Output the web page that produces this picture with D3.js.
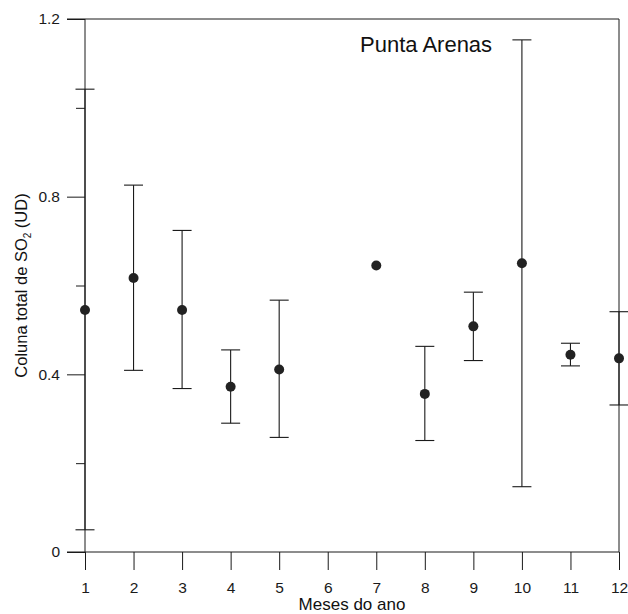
<!DOCTYPE html>
<html>
<head>
<meta charset="utf-8">
<script src="https://cdn.jsdelivr.net/npm/d3@7"></script>
<style>
  html, body { margin: 0; padding: 0; background: #fff; }
  svg { display: block; font-family: "Liberation Sans", Arial, sans-serif; }
</style>
</head>
<body>
<svg id="chart" width="628" height="614"></svg>
<script>
// Data
const months    = [1, 2, 3, 4, 5, 7, 8, 9, 10, 11, 12];
const means     = [0.545, 0.617, 0.545, 0.372, 0.411, 0.645, 0.356, 0.508, 0.650, 0.444, 0.436];
const upper     = [1.042, 0.826, 0.724, 0.455, 0.567, null, 0.463, 0.585, 1.153, 0.470, 0.541];
const lower     = [0.050, 0.409, 0.368, 0.290, 0.258, null, 0.251, 0.431, 0.147, 0.419, 0.331];
const xTicks    = [1, 2, 3, 4, 5, 6, 7, 8, 9, 10, 11, 12];
const yMajor    = [0, 0.4, 0.8, 1.2];
const yMinor    = [0.2, 0.6, 1.0];
const title     = "Punta Arenas";
const xTitle    = "Meses do ano";

const svg = d3.select("#chart");
const L = 85, R = 619, T = 19, B = 552;

const x = d3.scaleLinear().domain([1, 12]).range([L, R]);
const y = d3.scaleLinear().domain([0, 1.2]).range([B, T]);

const ink = "#1a1a1a";

// Y axis (major ticks with labels)
const yAxis = d3.axisLeft(y).tickValues(yMajor).tickSize(18).tickPadding(7)
  .tickFormat(d => d === 0 ? "0" : d3.format(".1f")(d));
const gy = svg.append("g").attr("transform", `translate(${L},0)`).call(yAxis);
gy.select(".domain").remove();
gy.selectAll(".tick line").attr("stroke", ink);
gy.selectAll(".tick text").attr("fill", ink).style("font-size", "15.5px")
  .style("font-family", "Liberation Sans, Arial, sans-serif");

// Y minor ticks
const yAxisMinor = d3.axisLeft(y).tickValues(yMinor).tickSize(9).tickFormat("");
const gym = svg.append("g").attr("transform", `translate(${L},0)`).call(yAxisMinor);
gym.select(".domain").remove();
gym.selectAll(".tick line").attr("stroke", ink);

// X axis
const xAxis = d3.axisBottom(x).tickValues(xTicks).tickSize(18).tickPadding(12)
  .tickFormat(d3.format("d"));
const gx = svg.append("g").attr("transform", `translate(0,${B})`).call(xAxis);
gx.select(".domain").remove();
gx.selectAll(".tick line").attr("stroke", ink);
gx.selectAll(".tick text").attr("fill", ink).style("font-size", "15.5px")
  .style("font-family", "Liberation Sans, Arial, sans-serif");

// Frame
svg.append("line").attr("x1", L).attr("x2", L).attr("y1", T).attr("y2", B).attr("stroke", ink);
svg.append("line").attr("x1", R).attr("x2", R).attr("y1", T).attr("y2", B).attr("stroke", ink);
svg.append("line").attr("x1", L - 18).attr("x2", R).attr("y1", T).attr("y2", T).attr("stroke", ink);
svg.append("line").attr("x1", L - 18).attr("x2", R).attr("y1", B).attr("y2", B).attr("stroke", ink);

// Data rows
const rows = months.map((m, i) => ({ m, v: means[i], hi: upper[i], lo: lower[i] }));
const withErr = rows.filter(d => d.hi !== null);
const cap = 9.5;

const eg = svg.append("g").attr("stroke", ink).attr("stroke-width", 1.1);
eg.selectAll("line.v").data(withErr).join("line").attr("class", "v")
  .attr("x1", d => x(d.m)).attr("x2", d => x(d.m))
  .attr("y1", d => y(d.hi)).attr("y2", d => y(d.lo));
eg.selectAll("line.hi").data(withErr).join("line").attr("class", "hi")
  .attr("x1", d => x(d.m) - cap).attr("x2", d => x(d.m) + cap)
  .attr("y1", d => y(d.hi)).attr("y2", d => y(d.hi));
eg.selectAll("line.lo").data(withErr).join("line").attr("class", "lo")
  .attr("x1", d => x(d.m) - cap).attr("x2", d => x(d.m) + cap)
  .attr("y1", d => y(d.lo)).attr("y2", d => y(d.lo));

svg.append("g").selectAll("circle").data(rows).join("circle")
  .attr("cx", d => x(d.m)).attr("cy", d => y(d.v)).attr("r", 5)
  .attr("fill", "#222");

// Title inside plot
svg.append("text").attr("x", 360).attr("y", 52)
  .attr("fill", "#111").style("font-size", "22px").text(title);

// X title
svg.append("text").attr("x", (L + R) / 2).attr("y", 610)
  .attr("text-anchor", "middle").attr("fill", "#111").style("font-size", "17px").text(xTitle);

// Y title with subscript
const yt = svg.append("text")
  .attr("transform", `translate(27,${(T + B) / 2}) rotate(-90)`)
  .attr("text-anchor", "middle").attr("fill", "#111").style("font-size", "16.5px");
yt.append("tspan").text("Coluna total de SO");
yt.append("tspan").attr("dy", 4).style("font-size", "10px").text("2");
yt.append("tspan").attr("dy", -4).text(" (UD)");
</script>
</body>
</html>
